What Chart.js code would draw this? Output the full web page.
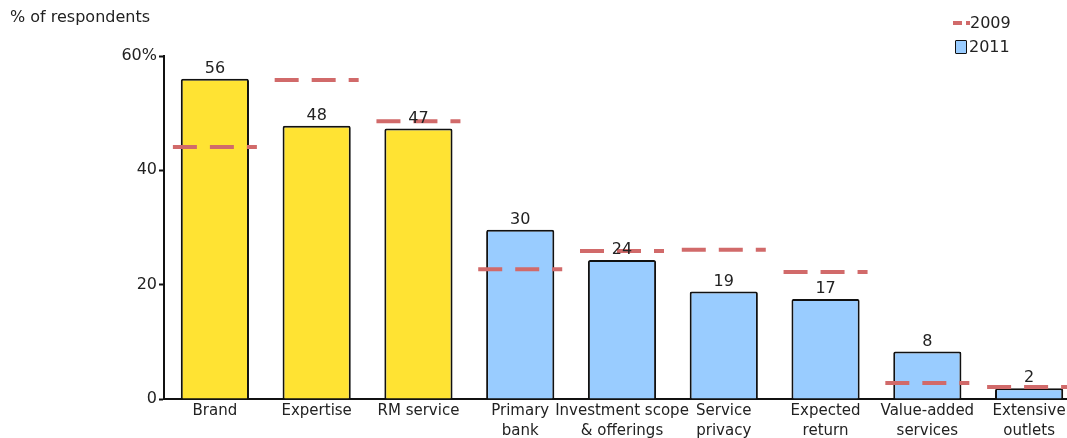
<!DOCTYPE html>
<html>
<head>
<meta charset="utf-8">
<script src="https://cdn.jsdelivr.net/npm/chart.js@4.4.1/dist/chart.umd.min.js"></script>
<style>
  html, body { margin: 0; padding: 0; background: #fff; overflow: hidden; width: 1067px; height: 438px; }
  #wrap { position: relative; width: 1080px; height: 438px; }
  canvas { display: block; }
  .txt { position: absolute; font-family: "DejaVu Sans", sans-serif; font-size: 16px; color: #222; white-space: nowrap; line-height: 18px; }
  .dash { position: absolute; height: 4px; background: #d16a6a; }
  .box { position: absolute; width: 10px; height: 12px; background: #99ccff; border: 1.5px solid #111; border-radius: 1px; }
</style>
</head>
<body>
<div id="wrap">
  <canvas id="c" width="1080" height="438"></canvas>
  <div class="txt" style="left:10px; top:8px;">% of respondents</div>
  <div class="dash" style="left:953px; top:21px; width:9px;"></div>
  <div class="dash" style="left:966px; top:21px; width:4px;"></div>
  <div class="txt" style="left:970px; top:14px;">2009</div>
  <div class="box" style="left:955px; top:40px;"></div>
  <div class="txt" style="left:969px; top:38px;">2011</div>
</div>
<script>
const categories = [
  "Brand", "Expertise", "RM service", ["Primary", "bank"], ["Investment scope", "& offerings"],
  ["Service", "privacy"], ["Expected", "return"], ["Value-added", "services"], ["Extensive", "outlets"]
];
const values2011 = [56, 47.8, 47.3, 29.6, 24.3, 18.8, 17.5, 8.3, 1.9];
const labels2011 = ["56", "48", "47", "30", "24", "19", "17", "8", "2"];
const values2009 = [44.1, 55.8, 48.6, 22.7, 25.9, 26.1, 22.2, 2.8, 2.1];
const barColors = ["#ffe333", "#ffe333", "#ffe333", "#99ccff", "#99ccff", "#99ccff", "#99ccff", "#99ccff", "#99ccff"];
const yTicks = [0, 20, 40, 60];

const FONT = '"DejaVu Sans", sans-serif';

const overlay = {
  id: 'overlay',
  afterDatasetsDraw(chart) {
    const ctx = chart.ctx;
    const lineMeta = chart.getDatasetMeta(1);
    ctx.save();
    ctx.strokeStyle = '#d16a6a';
    ctx.lineWidth = 4;
    ctx.setLineDash([24, 13]);
    lineMeta.data.forEach(pt => {
      ctx.beginPath();
      ctx.moveTo(pt.x - 42, pt.y);
      ctx.lineTo(pt.x + 42, pt.y);
      ctx.stroke();
    });
    ctx.restore();
    const barMeta = chart.getDatasetMeta(0);
    ctx.save();
    ctx.font = '16px ' + FONT;
    ctx.fillStyle = '#222';
    ctx.textAlign = 'center';
    ctx.textBaseline = 'bottom';
    barMeta.data.forEach((bar, i) => {
      ctx.fillText(labels2011[i], bar.x, bar.y - 2);
    });
    ctx.restore();
  }
};

new Chart(document.getElementById('c'), {
  data: {
    labels: categories,
    datasets: [
      {
        type: 'bar',
        label: '2011',
        data: values2011,
        backgroundColor: barColors,
        borderColor: '#111',
        borderWidth: 2,
        borderRadius: 2,
        borderSkipped: 'bottom',
        categoryPercentage: 1,
        barPercentage: 0.67,
        order: 2
      },
      {
        type: 'line',
        label: '2009',
        data: values2009,
        showLine: false,
        pointRadius: 0,
        pointHoverRadius: 0,
        order: 1
      }
    ]
  },
  options: {
    responsive: false,
    animation: false,
    events: [],
    layout: { padding: { top: 56, left: 0, right: 0, bottom: 0 } },
    plugins: { legend: { display: false }, tooltip: { enabled: false } },
    scales: {
      x: {
        grid: { display: false, drawTicks: false },
        border: { color: '#111', width: 2 },
        ticks: { color: '#222', font: { family: FONT, size: 15, lineHeight: 1.333 }, padding: 2, maxRotation: 0, autoSkip: false },
        afterFit(scale) { scale.height = 39; }
      },
      y: {
        min: 0,
        max: 60,
        afterBuildTicks(scale) { scale.ticks = yTicks.map(v => ({ value: v })); },
        grid: { drawOnChartArea: false, color: '#111', tickLength: 5, tickWidth: 2 },
        border: { color: '#111', width: 2 },
        ticks: {
          color: '#222',
          font: { family: FONT, size: 16 },
          padding: 2,
          callback: v => v === 60 ? '60%' : String(v)
        },
        afterFit(scale) { scale.width = 164; }
      }
    }
  },
  plugins: [overlay]
});
</script>
</body>
</html>
